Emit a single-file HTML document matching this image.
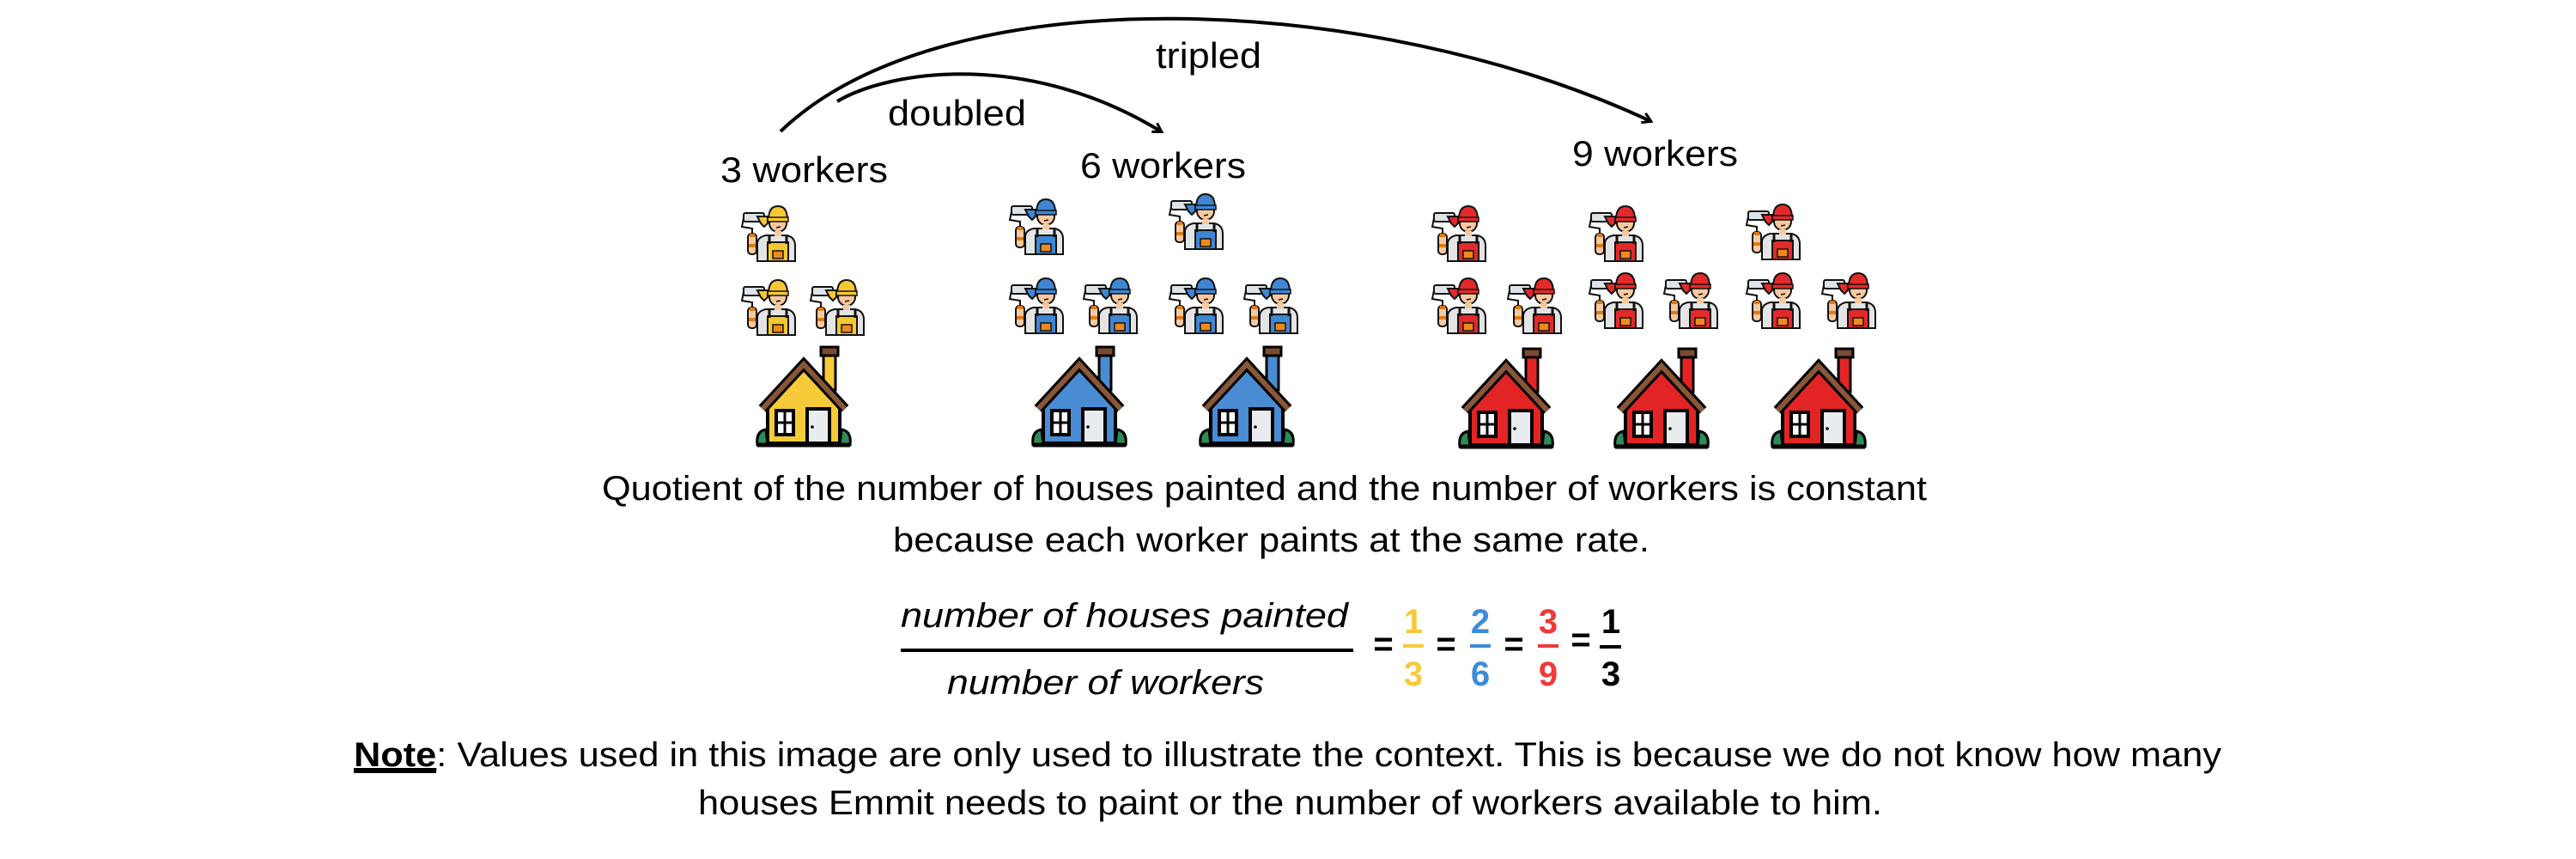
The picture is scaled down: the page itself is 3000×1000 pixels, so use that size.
<!DOCTYPE html>
<html><head><meta charset="utf-8"><style>
html,body{margin:0;padding:0;background:#fff;}
svg{display:block;}
text{font-family:"Liberation Sans",Arial,sans-serif;fill:#000;}
</style></head><body>
<svg width="3000" height="1000" viewBox="0 0 3000 1000" xmlns="http://www.w3.org/2000/svg">
<defs>
<g id="house">
  <rect x="76" y="0" width="20" height="10" fill="#7a4a32" stroke="#000" stroke-width="3"/>
  <rect x="79" y="10" width="14" height="40" fill="currentColor" stroke="#000" stroke-width="3"/>
  <polygon points="14,70 56,26 98,70 98,112 14,112" fill="currentColor" stroke="#000" stroke-width="4"/>
  <polyline points="8,72 56,20 104,72" fill="none" stroke="#000" stroke-width="12" stroke-linejoin="miter"/>
  <polyline points="8,72 56,20 104,72" fill="none" stroke="#8a5638" stroke-width="6" stroke-linejoin="miter"/>
  <rect x="24" y="74" width="20" height="28" fill="#fff" stroke="#000" stroke-width="4"/>
  <line x1="34" y1="74" x2="34" y2="102" stroke="#000" stroke-width="3"/>
  <line x1="24" y1="88" x2="44" y2="88" stroke="#000" stroke-width="3"/>
  <rect x="60" y="72" width="26" height="40" fill="#e8ecef" stroke="#000" stroke-width="4"/>
  <circle cx="66" cy="93" r="1.8" fill="#000"/>
  <path d="M2,114 Q0,98 12,96 L14,114 Z" fill="#2e8b57" stroke="#000" stroke-width="3"/>
  <path d="M110,114 Q112,98 100,96 L98,114 Z" fill="#2e8b57" stroke="#000" stroke-width="3"/>
  <line x1="2" y1="114" x2="110" y2="114" stroke="#000" stroke-width="5"/>
</g>
<g id="worker">
  <rect x="2" y="14" width="24" height="10" rx="2" fill="#dde3e8" stroke="#111" stroke-width="2"/>
  <path d="M18,18 L30,18 L30,26 L26,30 L22,26 Z" fill="currentColor" stroke="#111" stroke-width="2"/>
  <polyline points="2,20 0,30 12,32 12,38" fill="none" stroke="#111" stroke-width="2"/>
  <rect x="7" y="38" width="10" height="24" rx="4" fill="#f8c9a0" stroke="#111" stroke-width="2"/>
  <rect x="9" y="38" width="6" height="4" fill="#e07a10"/>
  <rect x="8" y="50" width="8" height="4" fill="#e07a10"/>
  <path d="M18,70 L18,50 Q18,42 28,40 L52,40 Q62,42 62,52 L62,70 Z" fill="#e4e4e4" stroke="#111" stroke-width="2"/>
  <rect x="30" y="48" width="24" height="22" fill="currentColor" stroke="#111" stroke-width="2"/>
  <line x1="32" y1="40" x2="32" y2="50" stroke="#111" stroke-width="3"/>
  <line x1="52" y1="40" x2="52" y2="50" stroke="#111" stroke-width="3"/>
  <rect x="36" y="58" width="12" height="9" fill="#f08a1a" stroke="#111" stroke-width="1.5"/>
  <circle cx="42" cy="26" r="10" fill="#f8c9a0" stroke="#111" stroke-width="2"/>
  <rect x="38" y="35" width="8" height="6" fill="#f8c9a0"/>
  <path d="M31,22 Q31,6 42,6 Q53,6 53,22 Z" fill="currentColor" stroke="#111" stroke-width="2"/>
  <rect x="30" y="19" width="24" height="5" fill="currentColor" stroke="#111" stroke-width="1.5"/>
  <line x1="40" y1="31" x2="45" y2="30" stroke="#111" stroke-width="1.5"/>
</g>
<marker id="ah" markerWidth="14" markerHeight="14" refX="10" refY="7" orient="auto" markerUnits="userSpaceOnUse">
  <polyline points="1,1 11,7 1,13" fill="none" stroke="#000" stroke-width="3"/>
</marker>
</defs>

<!-- arcs -->
<path d="M909,153 C1100,-30 1600,-10 1922,141" fill="none" stroke="#000" stroke-width="4" marker-end="url(#ah)"/>
<path d="M975,118 C1040,80 1200,60 1352,153" fill="none" stroke="#000" stroke-width="4" marker-end="url(#ah)"/>

<text x="1346" y="79" font-size="42" textLength="123" lengthAdjust="spacingAndGlyphs">tripled</text>
<text x="1034" y="146" font-size="42" textLength="161" lengthAdjust="spacingAndGlyphs">doubled</text>
<text x="839" y="212" font-size="42" textLength="195" lengthAdjust="spacingAndGlyphs">3 workers</text>
<text x="1258" y="207" font-size="42" textLength="193" lengthAdjust="spacingAndGlyphs">6 workers</text>
<text x="1831" y="193" font-size="42" textLength="193" lengthAdjust="spacingAndGlyphs">9 workers</text>

<!-- workers -->
<g style="color:#f5c832">
<use href="#worker" x="864" y="234"/>
<use href="#worker" x="864" y="320"/>
<use href="#worker" x="944" y="320"/>
</g>
<g style="color:#3f86d3">
<use href="#worker" x="1176" y="226"/>
<use href="#worker" x="1362" y="220"/>
<use href="#worker" x="1176" y="318"/>
<use href="#worker" x="1262" y="318"/>
<use href="#worker" x="1362" y="318"/>
<use href="#worker" x="1449" y="318"/>
</g>
<g style="color:#e32a2a">
<use href="#worker" x="1668" y="234"/>
<use href="#worker" x="1851" y="234"/>
<use href="#worker" x="2034" y="232"/>
<use href="#worker" x="1668" y="318"/>
<use href="#worker" x="1756" y="318"/>
<use href="#worker" x="1851" y="312"/>
<use href="#worker" x="1938" y="312"/>
<use href="#worker" x="2034" y="312"/>
<use href="#worker" x="2122" y="312"/>
</g>

<!-- houses -->
<use href="#house" x="880" y="404" style="color:#f5cb3a"/>
<use href="#house" x="1201" y="404" style="color:#4a8cd3"/>
<use href="#house" x="1396" y="404" style="color:#4a8cd3"/>
<use href="#house" x="1698" y="406" style="color:#e32424"/>
<use href="#house" x="1879" y="406" style="color:#e32424"/>
<use href="#house" x="2062" y="406" style="color:#e32424"/>

<!-- text -->
<text x="701" y="582" font-size="40" textLength="1543" lengthAdjust="spacingAndGlyphs">Quotient of the number of houses painted and the number of workers is constant</text>
<text x="1040" y="642" font-size="40" textLength="881" lengthAdjust="spacingAndGlyphs">because each worker paints at the same rate.</text>

<text x="1049" y="730" font-size="40" font-style="italic" textLength="521" lengthAdjust="spacingAndGlyphs">number of houses painted</text>
<rect x="1049" y="755" width="527" height="4" fill="#000"/>
<text x="1103" y="808" font-size="40" font-style="italic" textLength="369" lengthAdjust="spacingAndGlyphs">number of workers</text>

<g font-size="40" font-weight="bold" text-anchor="middle">
<text x="1611" y="763">=</text>
<text x="1646" y="737" style="fill:#f9c93a">1</text>
<rect x="1634" y="750" width="24" height="4" fill="#f9c93a"/>
<text x="1646" y="798" style="fill:#f9c93a">3</text>
<text x="1684" y="763">=</text>
<text x="1724" y="737" style="fill:#3d8bd9">2</text>
<rect x="1712" y="750" width="24" height="4" fill="#3d8bd9"/>
<text x="1724" y="798" style="fill:#3d8bd9">6</text>
<text x="1763" y="763">=</text>
<text x="1803" y="737" style="fill:#f03838">3</text>
<rect x="1791" y="750" width="24" height="4" fill="#f03838"/>
<text x="1803" y="798" style="fill:#f03838">9</text>
<text x="1841" y="758">=</text>
<text x="1876" y="737">1</text>
<rect x="1863" y="751" width="25" height="4" fill="#000"/>
<text x="1876" y="798">3</text>
</g>

<text x="412" y="892" font-size="40" textLength="2175" lengthAdjust="spacingAndGlyphs"><tspan font-weight="bold" text-decoration="underline">Note</tspan>: Values used in this image are only used to illustrate the context. This is because we do not know how many</text>
<rect x="412" y="897" width="96" height="3" fill="#000"/>
<text x="813" y="948" font-size="40" textLength="1379" lengthAdjust="spacingAndGlyphs">houses Emmit needs to paint or the number of workers available to him.</text>
</svg>
</body></html>
